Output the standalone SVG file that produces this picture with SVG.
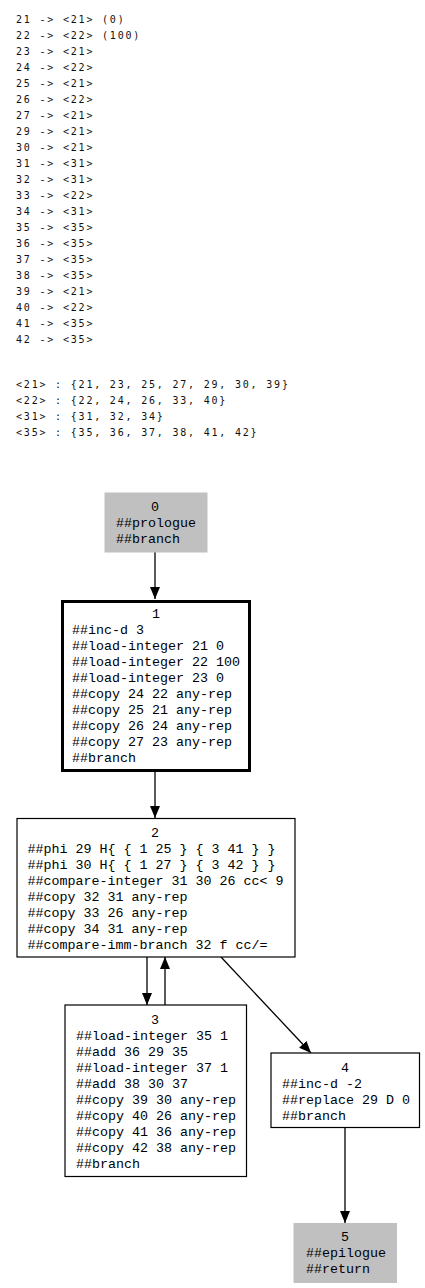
<svg xmlns="http://www.w3.org/2000/svg" width="425" height="1288" viewBox="0 0 425 1288">
<style>
.hdr{font-family:"DejaVu Sans Mono",monospace;font-size:10px;letter-spacing:1.8px;fill:#111}
.t{font-family:"Liberation Mono","Courier New",monospace;font-size:13.33px;fill:#000}
.c{text-anchor:middle}
.box{fill:#fff;stroke:#000;stroke-width:1.2}
.gray{fill:#c0c0c0;stroke:#c0c0c0}
.bold{fill:#fff;stroke:#000;stroke-width:3}
.edge{stroke:#000;stroke-width:1.3;fill:none}
</style>
<defs>
<marker id="ah" markerUnits="userSpaceOnUse" markerWidth="12" markerHeight="10" refX="12" refY="5" orient="auto">
<path d="M0,0 L12,5 L0,10 z" fill="#000"/>
</marker>
</defs>
<g id="mapping" class="hdr">
<text x="16" y="23.3">21 -&gt; &lt;21&gt; (0)</text>
<text x="16" y="39.3">22 -&gt; &lt;22&gt; (100)</text>
<text x="16" y="55.3">23 -&gt; &lt;21&gt;</text>
<text x="16" y="71.3">24 -&gt; &lt;22&gt;</text>
<text x="16" y="87.3">25 -&gt; &lt;21&gt;</text>
<text x="16" y="103.3">26 -&gt; &lt;22&gt;</text>
<text x="16" y="119.3">27 -&gt; &lt;21&gt;</text>
<text x="16" y="135.3">29 -&gt; &lt;21&gt;</text>
<text x="16" y="151.3">30 -&gt; &lt;21&gt;</text>
<text x="16" y="167.3">31 -&gt; &lt;31&gt;</text>
<text x="16" y="183.3">32 -&gt; &lt;31&gt;</text>
<text x="16" y="199.3">33 -&gt; &lt;22&gt;</text>
<text x="16" y="215.3">34 -&gt; &lt;31&gt;</text>
<text x="16" y="231.3">35 -&gt; &lt;35&gt;</text>
<text x="16" y="247.3">36 -&gt; &lt;35&gt;</text>
<text x="16" y="263.3">37 -&gt; &lt;35&gt;</text>
<text x="16" y="279.3">38 -&gt; &lt;35&gt;</text>
<text x="16" y="295.3">39 -&gt; &lt;21&gt;</text>
<text x="16" y="311.3">40 -&gt; &lt;22&gt;</text>
<text x="16" y="327.3">41 -&gt; &lt;35&gt;</text>
<text x="16" y="343.3">42 -&gt; &lt;35&gt;</text>
</g>
<g id="classes" class="hdr">
<text x="16" y="388">&lt;21&gt; : {21, 23, 25, 27, 29, 30, 39}</text>
<text x="16" y="404">&lt;22&gt; : {22, 24, 26, 33, 40}</text>
<text x="16" y="420">&lt;31&gt; : {31, 32, 34}</text>
<text x="16" y="436">&lt;35&gt; : {35, 36, 37, 38, 41, 42}</text>
</g>
<g id="edges">
<line class="edge" x1="155" y1="552" x2="155" y2="599" marker-end="url(#ah)"/>
<line class="edge" x1="155" y1="772" x2="155" y2="818" marker-end="url(#ah)"/>
<line class="edge" x1="147" y1="957" x2="147" y2="1005" marker-end="url(#ah)"/>
<line class="edge" x1="165" y1="1005" x2="165" y2="957" marker-end="url(#ah)"/>
<line class="edge" x1="221" y1="957" x2="311" y2="1053" marker-end="url(#ah)"/>
<line class="edge" x1="345" y1="1128" x2="345" y2="1223" marker-end="url(#ah)"/>
</g>
<g id="node0">
<rect class="gray" x="105" y="493" width="102" height="59"/>
<text class="t c" x="155" y="511">0</text>
<text class="t" x="116" y="527">##prologue</text>
<text class="t" x="116" y="543">##branch</text>
</g>
<g id="node1">
<rect class="bold" x="62.5" y="601.5" width="187" height="169"/>
<text class="t c" x="156" y="617.5">1</text>
<text class="t" x="72" y="633.5">##inc-d 3</text>
<text class="t" x="72" y="649.5">##load-integer 21 0</text>
<text class="t" x="72" y="665.5">##load-integer 22 100</text>
<text class="t" x="72" y="681.5">##load-integer 23 0</text>
<text class="t" x="72" y="697.5">##copy 24 22 any-rep</text>
<text class="t" x="72" y="713.5">##copy 25 21 any-rep</text>
<text class="t" x="72" y="729.5">##copy 26 24 any-rep</text>
<text class="t" x="72" y="745.5">##copy 27 23 any-rep</text>
<text class="t" x="72" y="761.5">##branch</text>
</g>
<g id="node2">
<rect class="box" x="17" y="818.5" width="278" height="138.5"/>
<text class="t c" x="155" y="837">2</text>
<text class="t" x="27.5" y="853">##phi 29 H{ { 1 25 } { 3 41 } }</text>
<text class="t" x="27.5" y="869">##phi 30 H{ { 1 27 } { 3 42 } }</text>
<text class="t" x="27.5" y="885">##compare-integer 31 30 26 cc&lt; 9</text>
<text class="t" x="27.5" y="901">##copy 32 31 any-rep</text>
<text class="t" x="27.5" y="917">##copy 33 26 any-rep</text>
<text class="t" x="27.5" y="933">##copy 34 31 any-rep</text>
<text class="t" x="27.5" y="949">##compare-imm-branch 32 f cc/=</text>
</g>
<g id="node3">
<rect class="box" x="65" y="1005" width="181.5" height="171.5"/>
<text class="t c" x="155" y="1023.5">3</text>
<text class="t" x="76" y="1039.5">##load-integer 35 1</text>
<text class="t" x="76" y="1055.5">##add 36 29 35</text>
<text class="t" x="76" y="1071.5">##load-integer 37 1</text>
<text class="t" x="76" y="1087.5">##add 38 30 37</text>
<text class="t" x="76" y="1103.5">##copy 39 30 any-rep</text>
<text class="t" x="76" y="1119.5">##copy 40 26 any-rep</text>
<text class="t" x="76" y="1135.5">##copy 41 36 any-rep</text>
<text class="t" x="76" y="1151.5">##copy 42 38 any-rep</text>
<text class="t" x="76" y="1167.5">##branch</text>
</g>
<g id="node4">
<rect class="box" x="271" y="1053" width="148.5" height="74.5"/>
<text class="t c" x="345" y="1071.5">4</text>
<text class="t" x="282" y="1087.5">##inc-d -2</text>
<text class="t" x="282" y="1103.5">##replace 29 D 0</text>
<text class="t" x="282" y="1119.5">##branch</text>
</g>
<g id="node5">
<rect class="gray" x="294" y="1223.5" width="102.5" height="59"/>
<text class="t c" x="345" y="1241">5</text>
<text class="t" x="306" y="1257">##epilogue</text>
<text class="t" x="306" y="1273">##return</text>
</g>
</svg>
